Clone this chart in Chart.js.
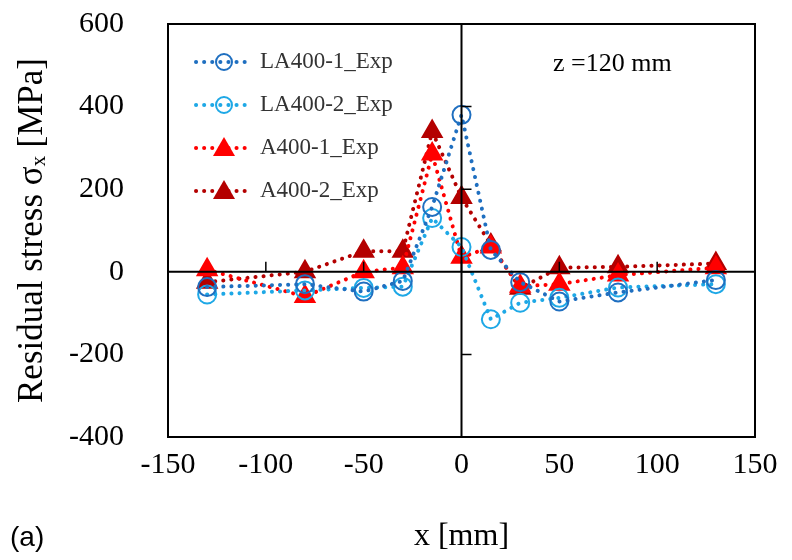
<!DOCTYPE html><html><head><script src="https://cdn.jsdelivr.net/npm/chart.js@4"></script>
<style>body{margin:0;background:#fff}#w{width:792px;height:560px;position:relative}</style></head><body><div id="w"><canvas id="c"></canvas></div>
<script>
const xs=[-130,-80,-50,-30,-15,0,15,30,50,80,130];
const la1=[-37,-30,-48,-22,157,380,53,-25,-72,-50,-20];
const la2=[-55,-45,-39,-36,130,60,-115,-75,-63,-38,-30];
const a1=[5,-60,0,10,285,35,60,-35,-30,-8,10];
const a2=[-25,0,50,50,340,180,65,-40,10,12,20];
const names=['LA400-1_Exp','LA400-2_Exp','A400-1_Exp','A400-2_Exp'];
const cols=['#1f6fc0','#1ea8e6','#ff0000','#b40000'];
const series=[la1,la2,a1,a2];
const xTicks=[-150,-100,-50,0,50,100,150];
const yTicks=[-400,-200,0,200,400,600];
const serif="'Liberation Serif', 'Times New Roman', serif";
const ds=series.map((s,i)=>({label:names[i],data:xs.map((x,j)=>({x,y:s[j]})),borderColor:cols[i],backgroundColor:i<2?'rgba(0,0,0,0)':cols[i],
 pointStyle:i<2?'circle':'triangle',pointRadius:i<2?9:11,pointBorderWidth:2,borderWidth:4,borderDash:[0.1,8],borderCapStyle:'round',fill:false,showLine:true}));
const extra={id:'extra',afterDraw(ch){const {ctx,chartArea:a,scales:{x,y}}=ch;ctx.save();
 ctx.strokeStyle='#000';ctx.lineWidth=2;ctx.strokeRect(a.left,a.top,a.right-a.left,a.bottom-a.top);
 ctx.beginPath();ctx.moveTo(a.left,y.getPixelForValue(0));ctx.lineTo(a.right,y.getPixelForValue(0));
 ctx.moveTo(x.getPixelForValue(0),a.top);ctx.lineTo(x.getPixelForValue(0),a.bottom);ctx.stroke();
 ctx.lineWidth=1.5;ctx.beginPath();
 xTicks.forEach(v=>{const p=x.getPixelForValue(v);ctx.moveTo(p,y.getPixelForValue(0));ctx.lineTo(p,y.getPixelForValue(0)-10);});
 yTicks.forEach(v=>{const p=y.getPixelForValue(v);ctx.moveTo(x.getPixelForValue(0),p);ctx.lineTo(x.getPixelForValue(0)+10,p);});ctx.stroke();
 ctx.font="26px "+serif;ctx.fillStyle='#000';ctx.textBaseline='middle';ctx.fillText('z =120 mm',553,64);
 names.forEach((n,i)=>{const yy=62+i*43;ctx.strokeStyle=cols[i];ctx.lineWidth=4;ctx.setLineDash([0.1,8]);ctx.lineCap='round';
  ctx.beginPath();ctx.moveTo(196,yy);ctx.lineTo(252,yy);ctx.stroke();ctx.setLineDash([]);ctx.lineWidth=2;ctx.beginPath();
  if(i<2){ctx.arc(224,yy,8,0,Math.PI*2);ctx.stroke();}else{ctx.fillStyle=cols[i];ctx.moveTo(224,yy-11);ctx.lineTo(235,yy+8);ctx.lineTo(213,yy+8);ctx.closePath();ctx.fill();}
  ctx.fillStyle='#333';ctx.font="23px "+serif;ctx.fillText(n,260,yy);});
 ctx.fillStyle='#000';ctx.font="28px 'Liberation Sans', Arial, sans-serif";ctx.fillText('(a)',10,538);
 ctx.restore();}};
new Chart(document.getElementById('c'),{type:'scatter',data:{datasets:ds},
 options:{responsive:true,maintainAspectRatio:false,animation:false,layout:{padding:{left:8,right:37,top:24,bottom:4}},
 plugins:{legend:{display:false},tooltip:{enabled:false}},
 scales:{x:{min:-150,max:150,afterBuildTicks:s=>{s.ticks=xTicks.map(v=>({value:v}))},afterFit:s=>{s.height=119;s.paddingLeft=0;s.paddingRight=0;},grid:{display:false},border:{display:false},
  ticks:{color:'#000',font:{family:serif,size:30},maxRotation:0,padding:2},title:{display:true,text:'x [mm]',color:'#000',font:{family:serif,size:32},padding:{top:12,bottom:0}}},
 y:{min:-400,max:600,afterBuildTicks:s=>{s.ticks=yTicks.map(v=>({value:v}))},afterFit:s=>{s.width=160;s.paddingTop=0;s.paddingBottom=0;},grid:{display:false},border:{display:false},
  ticks:{color:'#000',font:{family:serif,size:30},padding:36},title:{display:true,text:'Residual stress σₓ [MPa]',color:'#000',font:{family:serif,size:35},padding:{bottom:0}}}}},
 plugins:[extra]});
</script></body></html>
